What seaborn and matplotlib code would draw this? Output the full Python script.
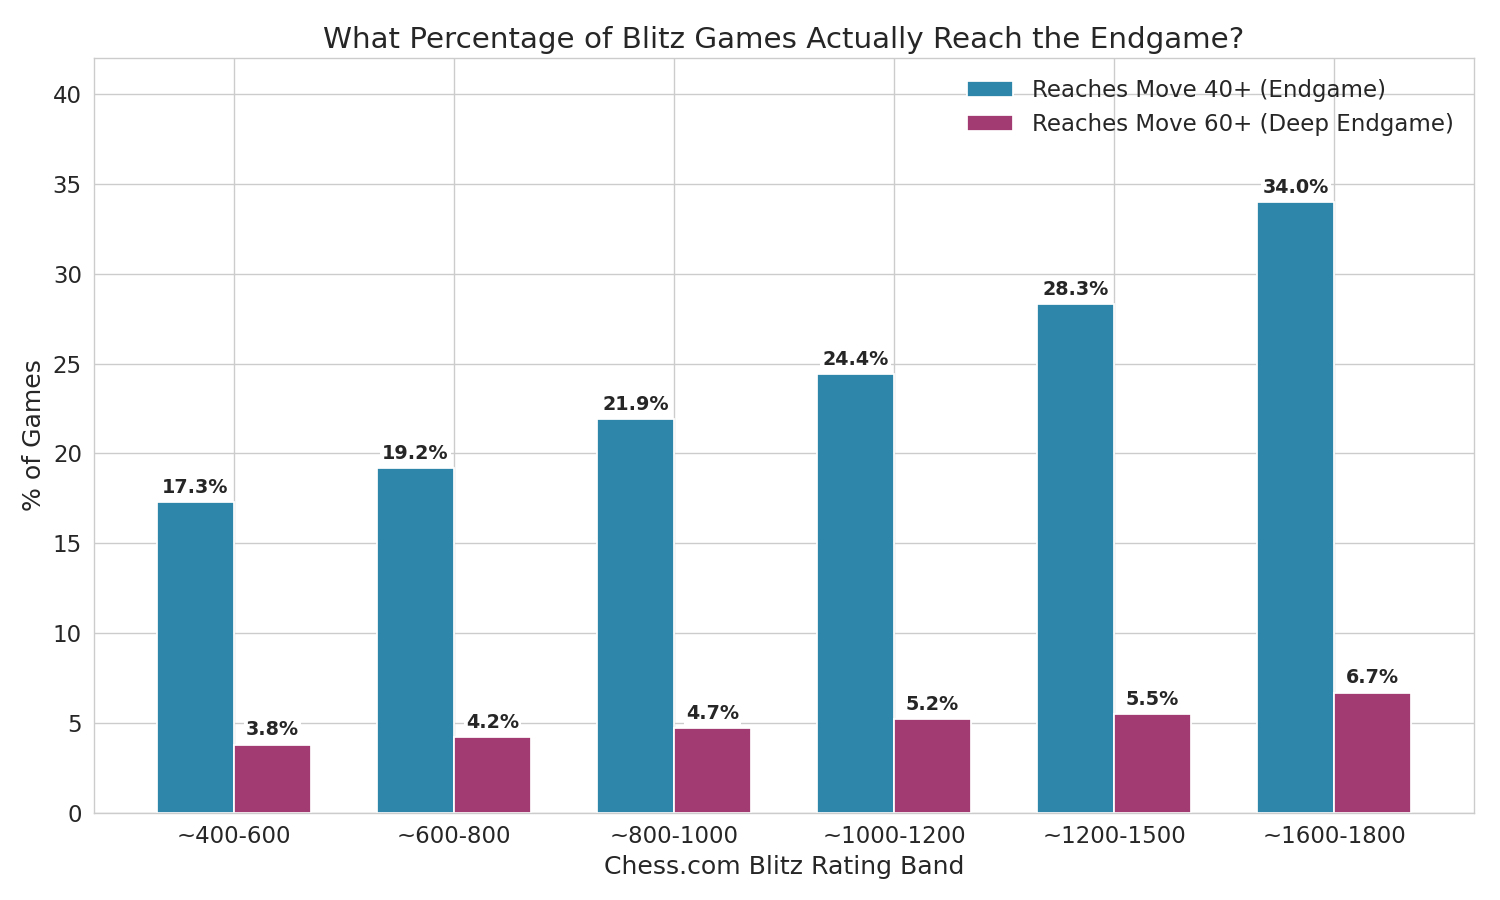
import numpy as np
import pandas as pd
import matplotlib
matplotlib.use("Agg")
import matplotlib.pyplot as plt
import seaborn as sns

rating_bands = ['~400-600', '~600-800', '~800-1000', '~1000-1200', '~1200-1500', '~1600-1800']
pct_move40 = [17.3, 19.2, 21.9, 24.4, 28.3, 34.0]
pct_move60 = [3.8, 4.2, 4.7, 5.2, 5.5, 6.7]
series_names = ['Reaches Move 40+ (Endgame)', 'Reaches Move 60+ (Deep Endgame)']
colors = ['#2E86AB', '#A23B72']

sns.set_style("whitegrid")
plt.rcParams['font.family'] = ['DejaVu Sans']

df = pd.DataFrame({
    'band': rating_bands * 2,
    'pct': pct_move40 + pct_move60,
    'series': [series_names[0]] * len(rating_bands) + [series_names[1]] * len(rating_bands),
})

bar_w = 0.35
fig, ax = plt.subplots(figsize=(12, 7.2), dpi=125)
sns.barplot(data=df, x='band', y='pct', hue='series', palette=colors,
            width=2 * bar_w, edgecolor='white', linewidth=1, saturation=1, ax=ax)

# value labels
for container in ax.containers:
    for bar in container:
        h = bar.get_height()
        ax.annotate(f'{h:.1f}%', (bar.get_x() + bar.get_width() / 2, h),
                    xytext=(0, 3), textcoords='offset points',
                    ha='center', va='bottom', fontsize=11, fontweight='bold',
                    color='#262626',
                    bbox=dict(boxstyle='square,pad=0.1', fc='white', ec='none'))

# matplotlib-like 5% x margins and vertical grid at the tick positions
n = len(rating_bands)
span = (n - 1) + 2 * bar_w
ax.set_xlim(-bar_w - 0.05 * span, n - 1 + bar_w + 0.05 * span)
ax.set_ylim(0, 42)
ax.xaxis.grid(True)
ax.set_axisbelow(True)

ax.set_xlabel('Chess.com Blitz Rating Band', fontsize=14.5)
ax.set_ylabel('% of Games', fontsize=14.5)
ax.set_title('What Percentage of Blitz Games Actually Reach the Endgame?', fontsize=16.9)
ax.tick_params(axis='both', labelsize=13.2)
ax.legend(loc='upper right', fontsize=13.2, frameon=False)

fig.subplots_adjust(left=0.0627, right=0.9827, top=0.9356, bottom=0.0967)
plt.savefig('out.png', dpi=125)
plt.close()
